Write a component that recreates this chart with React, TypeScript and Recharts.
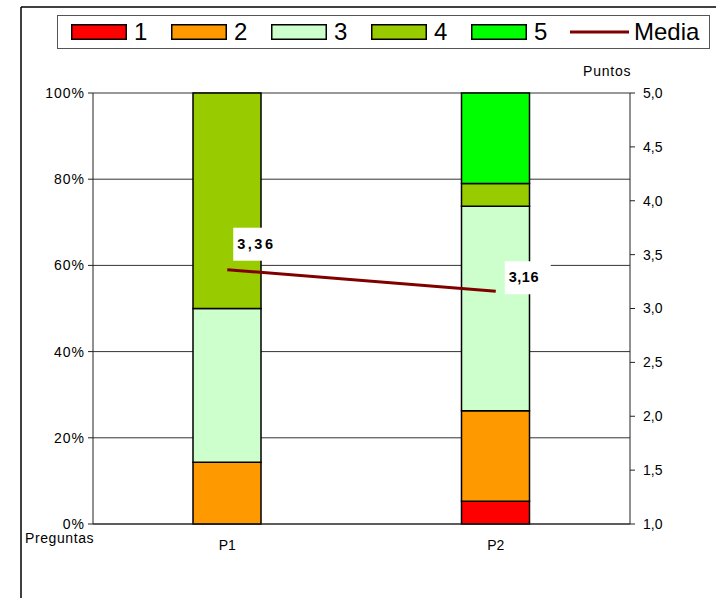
import { Bar, CartesianGrid, ComposedChart, LabelList, Legend, Line, XAxis, YAxis } from "recharts"

const questions = ["P1", "P2"]
// share of answers per score, in percent
const score1 = [0, 5.3]
const score2 = [14.3, 21.0]
const score3 = [35.7, 47.4]
const score4 = [50.0, 5.3]
const score5 = [0, 21.0]
const media = [3.36, 3.16]

const pctTicks = [0, 20, 40, 60, 80, 100]
const pointTicks = [1, 1.5, 2, 2.5, 3, 3.5, 4, 4.5, 5]

const seriesColors = ["#FF0000", "#FF9900", "#CCFFCC", "#99CC00", "#00FF00"]
const seriesNames = ["1", "2", "3", "4", "5"]
const lineColor = "#800000"
const font = "'Liberation Sans', Arial, sans-serif"

const data = questions.map((q, i) => ({
  q,
  s1: score1[i],
  s2: score2[i],
  s3: score3[i],
  s4: score4[i],
  s5: score5[i],
  media: media[i],
}))

const fmtComma = (v: number, digits: number) => v.toFixed(digits).replace(".", ",")

function MediaLabel(props: any) {
  const { x, y, value, index } = props
  const dx = index === 0 ? 6 : 9
  const dy = index === 0 ? -42 : -30
  return (
    <g>
      <rect x={x + dx} y={y + dy} width={46} height={33} fill="#fff" />
      <text
        x={x + dx + 4}
        y={y + dy + 17}
        fontFamily={font}
        fontSize={14.5}
        fontWeight="bold"
        fill="#000"
        letterSpacing={index === 0 ? 2.5 : 0.5}
        dominantBaseline="middle"
      >
        {fmtComma(value, 2)}
      </text>
    </g>
  )
}

function LegendBox() {
  return (
    <div
      style={{
        position: "relative",
        width: 651,
        height: 32,
        border: "1px solid #555",
        background: "#fff",
        fontFamily: font,
        fontSize: 24,
        color: "#000",
      }}
    >
      {seriesNames.map((name, i) => (
        <div key={name} style={{ position: "absolute", left: 13 + i * 100, top: 0, height: 32, display: "flex", alignItems: "center" }}>
          <svg width={56} height={16}>
            <rect x={0.75} y={0.75} width={54.5} height={14.5} fill={seriesColors[i]} stroke="#000" strokeWidth={1.5} />
          </svg>
          <span style={{ marginLeft: 7, lineHeight: "32px" }}>{name}</span>
        </div>
      ))}
      <div style={{ position: "absolute", left: 512, top: 0, height: 32, display: "flex", alignItems: "center" }}>
        <svg width={60} height={16}>
          <line x1={0} y1={8} x2={59} y2={8} stroke={lineColor} strokeWidth={3} />
        </svg>
        <span style={{ marginLeft: 4, lineHeight: "32px" }}>Media</span>
      </div>
    </div>
  )
}

export default function App() {
  const tick = { fontSize: 14, fill: "#000", fontFamily: font }
  return (
    <div style={{ position: "absolute", left: 0, top: 0, width: 716, height: 598, background: "#fff", overflow: "hidden" }}>
      <ComposedChart
        width={716}
        height={598}
        data={data}
        margin={{ top: 93, right: 0, left: 0, bottom: 44 }}
        style={{ position: "absolute", left: 0, top: 0 }}
      >
        <CartesianGrid yAxisId="pct" vertical={false} stroke="#333" strokeWidth={1} />
        <XAxis
          dataKey="q"
          height={30}
          tickLine={false}
          tickMargin={10}
          axisLine={{ stroke: "#222" }}
          tick={tick}
        />
        <YAxis
          yAxisId="pct"
          width={93}
          domain={[0, 100]}
          ticks={pctTicks}
          interval={0}
          tickFormatter={(v: number) => `${v}%`}
          tickSize={5}
          tickMargin={3}
          axisLine={{ stroke: "#222" }}
          tickLine={{ stroke: "#222" }}
          tick={{ ...tick, letterSpacing: 1 }}
        />
        <YAxis
          yAxisId="pts"
          orientation="right"
          width={86}
          domain={[1, 5]}
          ticks={pointTicks}
          interval={0}
          tickFormatter={(v: number) => fmtComma(v, 1)}
          tickSize={5}
          tickMargin={8}
          axisLine={{ stroke: "#222" }}
          tickLine={{ stroke: "#222" }}
          tick={tick}
        />
        <Legend
          verticalAlign="middle"
          layout="horizontal"
          content={() => <LegendBox />}
          wrapperStyle={{ top: 15, left: 57, width: 653, height: 34 }}
        />
        {["s1", "s2", "s3", "s4", "s5"].map((key, i) => (
          <Bar
            key={key}
            dataKey={key}
            name={seriesNames[i]}
            yAxisId="pct"
            stackId="a"
            barSize={68}
            fill={seriesColors[i]}
            stroke="#000"
            strokeWidth={1.5}
            isAnimationActive={false}
          />
        ))}
        <Line
          dataKey="media"
          name="Media"
          yAxisId="pts"
          type="linear"
          stroke={lineColor}
          strokeWidth={3}
          dot={false}
          activeDot={false}
          isAnimationActive={false}
        >
          <LabelList dataKey="media" content={<MediaLabel />} />
        </Line>
      </ComposedChart>
      <div style={{ position: "absolute", left: 583, top: 63, fontFamily: font, fontSize: 14, letterSpacing: 0.8, color: "#000" }}>Puntos</div>
      <div style={{ position: "absolute", left: 25, top: 531, fontFamily: font, fontSize: 14, letterSpacing: 0.6, color: "#000", lineHeight: "15px" }}>Preguntas</div>
      {/* outer frame, left and top edges only */}
      <svg width={716} height={598} style={{ position: "absolute", left: 0, top: 0, pointerEvents: "none" }}>
        <line x1={21} y1={7} x2={716} y2={7} stroke="#000" strokeWidth={1.5} />
        <line x1={21} y1={7} x2={21} y2={598} stroke="#000" strokeWidth={1.5} />
      </svg>
    </div>
  )
}
